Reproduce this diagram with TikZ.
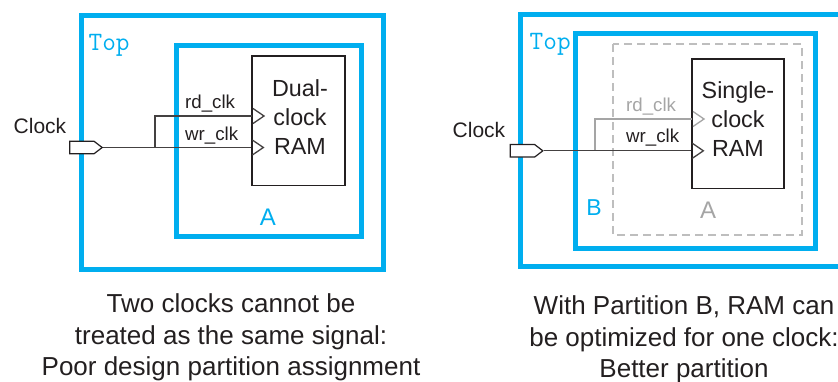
\documentclass[tikz,border=0pt]{standalone}
\usepackage{fontspec}
\setmainfont{Liberation Sans}
\usetikzlibrary{calc,shapes.symbols}

\definecolor{partblue}{RGB}{0,174,239}
\definecolor{ink}{RGB}{35,31,32}
\definecolor{ghost}{RGB}{165,165,165}
\definecolor{dashgray}{RGB}{190,190,190}

\tikzset{
  part/.style={draw=partblue,line width=5pt},
  ghostbox/.style={draw=dashgray,line width=1.2pt,dash pattern=on 8pt off 5pt},
  wire/.style={draw=ink!85,line width=1.3pt},
  ghostwire/.style={draw=ghost,line width=1.3pt},
  ram/.style={draw=ink,line width=1.3pt,fill=white,inner sep=0pt},
  port/.style={signal,signal to=east,signal pointer angle=75,draw=ink,fill=white,
    line width=1.2pt,minimum width=32.5pt,minimum height=12.5pt,inner sep=0pt},
  pin/.style={font=\fontsize{18.7}{22}\selectfont,text=ink,inner sep=0pt,anchor=base west},
  lbl/.style={font=\fontsize{21}{25}\selectfont,text=ink,inner sep=0pt,anchor=base west},
  ramtext/.style={font=\fontsize{23.3}{29}\selectfont,text=ink,align=center,inner sep=0pt},
  toplbl/.style={font=\ttfamily\fontsize{26.5}{30}\selectfont,text=partblue,inner sep=0pt,anchor=base west},
  partlbl/.style={font=\fontsize{24}{28}\selectfont,inner sep=0pt},
  caption/.style={font=\fontsize{26}{31.7}\selectfont,text=ink,align=center,inner sep=0pt,anchor=north}
}

\begin{document}
\begin{tikzpicture}[x=1pt,y=-1pt]
  \useasboundingbox (0,0) rectangle (838,381);
  \clip (0,0) rectangle (838,381);
  % Poor partition: dual-clock RAM inside A
  \begin{scope}
    \draw[part] (81,15) rectangle (383.5,269);
    \draw[part] (176.5,45) rectangle (361,236);
    \node[toplbl] (topL) at (88.5,50) {Top};
    \node[partlbl,text=partblue] (partA) at (268,217) {A};
    \node[ram,minimum width=93pt,minimum height=129.7pt] (ramL) at (298.5,120.85) {};
    \node[ramtext] (ramLtext) at (300,117) {Dual-\\clock\\RAM};
    \node[port] (portL) at (81.85,147.5) {};
    \node[lbl] (clkL) at (13.5,133.3) {Clock};
    \coordinate (wrL) at (portL.east -| ramL.west);
    \coordinate (rdL) at (252,116);
    \coordinate (tapL) at (155,147.5);
    \draw[wire] (portL.east) -- (wrL);
    \draw[wire] (tapL) |- (rdL);
    \node[pin] (rdLtext) at (185,108.3) {rd\_clk};
    \node[pin] (wrLtext) at (185,140) {wr\_clk};
  \end{scope}
  % Better partition: single-clock RAM inside B
  \begin{scope}
    \draw[part] (520.5,14) rectangle (850,266);
    \draw[part] (575.5,33) rectangle (815,248.5);
    \draw[ghostbox] (613,44) rectangle (802,235);
    \node[toplbl] (topR) at (529.5,49.3) {Top};
    \node[partlbl,text=partblue,font=\fontsize{23}{27}\selectfont] (partB) at (594,208) {B};
    \node[partlbl,text=ghost] (partAR) at (708,210) {A};
    \node[ram,minimum width=92pt,minimum height=129.3pt] (ramR) at (738,123.65) {};
    \node[ramtext] (ramRtext) at (738,119.5) {Single-\\clock\\RAM};
    \node[port] (portR) at (522.5,150.8) {};
    \node[lbl] (clkR) at (452.5,137.7) {Clock};
    \coordinate (wrR) at (portR.east -| ramR.west);
    \coordinate (rdR) at (692,119);
    \coordinate (tapR) at (595,150.8);
    \draw[ghostwire] (tapR) |- (rdR);
    \draw[wire] (portR.east) -- (wrR);
    \node[pin,text=ghost] (rdRtext) at (626,111) {rd\_clk};
    \node[pin] (wrRtext) at (626,142.7) {wr\_clk};
  \end{scope}
  % clock pins on the RAM blocks
  \foreach \p in {rdL,wrL,wrR}
    \draw[wire] ($(\p)+(1,-7.5)$) -- ($(\p)+(12,0)$) -- ($(\p)+(1,7.5)$);
  \draw[ghostwire] ($(rdR)+(1,-7.5)$) -- ($(rdR)+(12,0)$) -- ($(rdR)+(1,7.5)$);
  % captions
  \node[caption] (capL) at (231,293.5) {Two clocks cannot be\\treated as the same signal:\\Poor design partition assignment};
  \node[caption] (capR) at (684,295.5) {With Partition B, RAM can\\be optimized for one clock:\\Better partition};
\end{tikzpicture}
\end{document}
